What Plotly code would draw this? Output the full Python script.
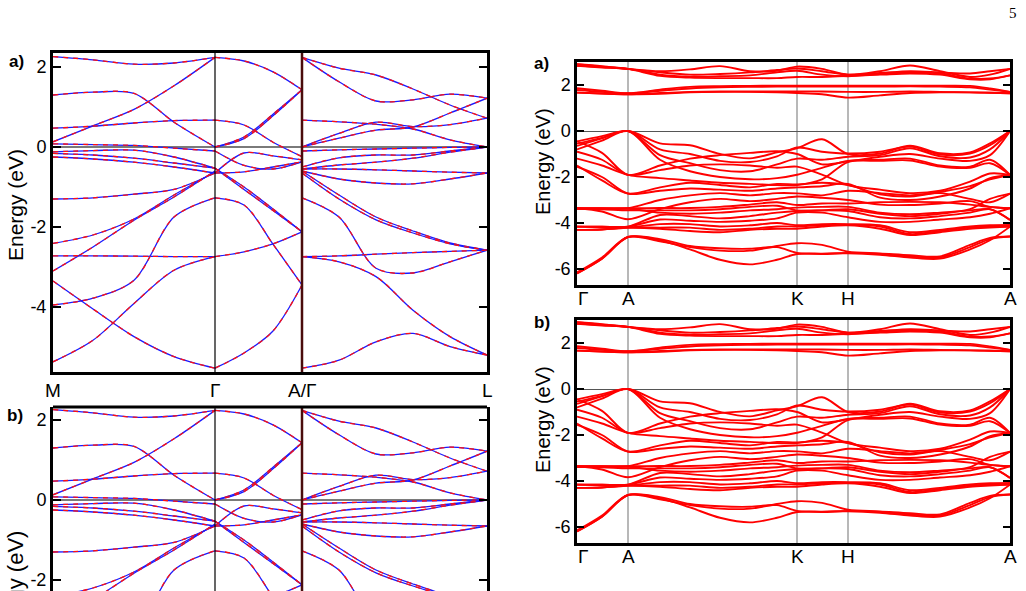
import plotly.graph_objects as go

# ---------------- Left panels (spin-resolved bands, M-Γ-A | Γ-L) ----------------
L_K_MG = [0, 40, 81, 121, 162]
L_K_GA = [162, 191, 220, 249]
L_K_GL = [249, 286, 323, 360, 397, 434]
L_TICKS = [0, 162, 249, 434]
L_TICK_LABELS = ["M", "Γ", "A/Γ", "L"]
L_YTICKS = [-4, -2, 0, 2]

L_BANDS_MG = [
    [2.26, 2.18, 2.07, 2.10, 2.24],
    [1.30, 1.37, 1.34, 0.62, 0.00],
    [0.13, 0.53, 0.94, 1.53, 2.24],
    [0.47, 0.52, 0.60, 0.66, 0.67],
    [0.08, 0.06, 0.04, -0.03, -0.10],
    [-0.12, -0.09, -0.08, -0.25, -0.53],
    [-0.16, -0.20, -0.28, -0.40, -0.53],
    [-0.25, -0.30, -0.38, -0.50, -0.65],
    [-1.30, -1.27, -1.18, -1.06, -0.65],
    [-2.41, -2.20, -1.80, -1.20, -0.62],
    [-3.10, -2.50, -1.83, -1.25, -0.60],
    [-2.72, -2.72, -2.73, -2.74, -2.74],
    [-3.35, -4.05, -4.74, -5.24, -5.53],
    [-3.95, -3.78, -3.33, -1.75, -1.27],
    [-5.37, -4.83, -3.91, -3.08, -2.74],
]
L_BANDS_GA = [
    [2.24, 2.15, 1.88, 1.43],
    [0.00, 0.25, 0.82, 1.43],
    [0.00, 0.21, 0.78, 1.43],
    [0.67, 0.55, 0.12, -0.24],
    [-0.10, -0.46, -0.55, -0.37],
    [-0.65, -0.15, -0.22, -0.32],
    [-0.65, -0.62, -0.50, -0.37],
    [-0.53, -1.06, -1.59, -2.12],
    [-0.53, -1.00, -1.55, -2.12],
    [-1.27, -1.45, -2.43, -3.45],
    [-2.74, -2.62, -2.42, -2.12],
    [-5.53, -5.15, -4.60, -3.45],
]
L_BANDS_GL = [
    [2.24, 1.97, 1.80, 1.45, 1.05, 0.72],
    [2.24, 1.63, 1.15, 1.18, 1.32, 1.22],
    [0.67, 0.63, 0.57, 0.45, 0.18, 0.00],
    [0.00, 0.34, 0.62, 0.51, 0.56, 0.72],
    [0.00, 0.22, 0.42, 0.50, 0.85, 1.22],
    [-0.10, -0.07, -0.05, -0.03, -0.01, 0.00],
    [-0.50, -0.27, -0.20, -0.20, -0.10, 0.00],
    [-0.55, -0.45, -0.38, -0.28, -0.13, 0.00],
    [-0.55, -0.55, -0.57, -0.60, -0.63, -0.65],
    [-0.60, -0.80, -0.90, -0.92, -0.80, -0.65],
    [-0.60, -1.20, -1.75, -2.10, -2.40, -2.58],
    [-0.65, -1.30, -1.82, -2.15, -2.42, -2.58],
    [-1.27, -1.75, -3.03, -3.15, -2.87, -2.58],
    [-2.74, -2.72, -2.68, -2.64, -2.61, -2.58],
    [-2.74, -2.87, -3.24, -4.08, -4.74, -5.20],
    [-5.53, -5.33, -4.87, -4.66, -4.99, -5.20],
]

# ---------------- Right panels (Γ-A-K-H-A) ----------------
R_K = [0, 25, 51, 83, 113, 143, 173, 200, 220, 245, 271, 303, 333, 363, 393, 413, 433]
R_TICKS = [0, 51, 220, 271, 433]
R_TICK_LABELS = ["Γ", "A", "K", "H", "A"]
R_YTICKS = [-6, -4, -2, 0, 2]

R_COND = [
    [2.90, 2.82, 2.70, 2.60, 2.68, 2.82, 2.60, 2.62, 2.80, 2.70, 2.45, 2.60, 2.85, 2.60, 2.35, 2.45, 2.70],
    [2.83, 2.78, 2.70, 2.55, 2.45, 2.48, 2.55, 2.65, 2.72, 2.60, 2.45, 2.52, 2.60, 2.55, 2.50, 2.60, 2.70],
    [2.83, 2.76, 2.70, 2.45, 2.36, 2.38, 2.42, 2.55, 2.62, 2.45, 2.38, 2.48, 2.55, 2.50, 2.28, 2.28, 2.42],
    [2.90, 2.80, 2.70, 2.40, 2.32, 2.30, 2.30, 2.30, 2.35, 2.35, 2.40, 2.45, 2.50, 2.45, 2.25, 2.25, 2.42],
    [1.86, 1.75, 1.64, 1.80, 1.92, 1.95, 1.96, 1.97, 1.97, 1.97, 1.97, 1.97, 1.97, 1.97, 1.96, 1.85, 1.70],
    [1.78, 1.70, 1.64, 1.75, 1.85, 1.90, 1.92, 1.93, 1.93, 1.93, 1.93, 1.93, 1.94, 1.93, 1.90, 1.80, 1.70],
    [1.67, 1.63, 1.60, 1.62, 1.68, 1.70, 1.70, 1.68, 1.65, 1.60, 1.45, 1.55, 1.65, 1.68, 1.68, 1.66, 1.64],
    [1.67, 1.63, 1.60, 1.65, 1.70, 1.72, 1.72, 1.72, 1.72, 1.72, 1.70, 1.70, 1.72, 1.70, 1.68, 1.66, 1.64],
]
R_VAL = [
    [-0.45, -0.22, 0.00, -0.54, -0.62, -1.00, -1.19, -0.93, -0.75, -0.36, -1.00, -0.98, -0.64, -0.97, -0.93, -0.54, 0.00],
    [-0.65, -0.32, 0.00, -0.80, -1.00, -1.30, -1.35, -1.10, -0.72, -0.90, -0.98, -0.90, -0.68, -1.02, -0.98, -0.62, 0.00],
    [-0.55, -0.30, 0.00, -1.05, -1.40, -1.70, -1.75, -1.45, -1.20, -1.25, -1.12, -1.05, -0.75, -1.10, -1.15, -0.80, 0.00],
    [-0.80, -0.42, 0.00, -1.25, -1.75, -2.00, -2.10, -2.05, -1.90, -1.60, -1.30, -1.25, -1.20, -1.50, -1.55, -1.25, -1.91],
    [-0.45, -0.95, -1.91, -1.50, -1.20, -1.05, -0.95, -0.88, -1.00, -1.45, -1.32, -1.12, -1.00, -1.20, -1.30, -1.05, 0.00],
    [-0.90, -1.25, -1.91, -1.70, -1.50, -1.45, -1.50, -1.60, -1.55, -1.90, -2.35, -2.55, -2.70, -2.60, -2.20, -1.85, -1.91],
    [-1.20, -1.50, -1.91, -2.05, -2.15, -2.25, -2.30, -2.35, -2.35, -2.10, -1.35, -1.30, -1.28, -1.55, -1.60, -1.40, -1.91],
    [-1.50, -2.15, -2.72, -2.45, -2.25, -2.35, -2.45, -2.30, -2.32, -2.25, -2.35, -2.75, -2.85, -2.65, -2.40, -2.10, -1.91],
    [-1.55, -2.00, -2.72, -2.60, -2.50, -2.55, -2.60, -2.50, -2.45, -2.40, -2.30, -2.90, -3.00, -2.85, -2.50, -2.05, -1.91],
    [-3.36, -3.36, -3.36, -3.00, -2.80, -2.70, -2.80, -2.70, -2.71, -2.80, -2.60, -2.70, -2.80, -2.70, -2.95, -3.10, -2.72],
    [-3.36, -3.50, -3.84, -3.40, -3.10, -2.95, -3.05, -2.95, -2.85, -2.90, -3.00, -3.20, -3.22, -3.15, -3.05, -3.30, -3.36],
    [-3.36, -3.36, -3.36, -3.35, -3.35, -3.30, -3.20, -3.10, -3.22, -3.15, -3.15, -3.10, -3.08, -3.10, -3.20, -3.30, -3.36],
    [-3.38, -3.40, -3.45, -3.45, -3.45, -3.40, -3.30, -3.25, -3.45, -3.45, -3.40, -3.60, -3.70, -3.60, -3.40, -2.95, -2.72],
    [-3.38, -3.38, -3.38, -3.55, -3.60, -3.55, -3.45, -3.40, -3.33, -3.30, -3.30, -3.55, -3.62, -3.55, -3.45, -3.40, -3.87],
    [-4.16, -4.16, -4.16, -3.65, -3.70, -3.80, -3.70, -3.55, -3.48, -3.45, -3.48, -3.75, -3.80, -3.70, -3.55, -3.40, -3.87],
    [-4.16, -4.16, -4.16, -3.85, -3.90, -3.95, -3.90, -3.80, -3.55, -3.55, -3.75, -3.95, -3.95, -3.85, -3.75, -3.60, -3.36],
    [-4.30, -4.28, -4.20, -4.05, -4.05, -4.15, -4.10, -4.00, -4.10, -4.05, -4.05, -4.10, -4.40, -4.30, -4.15, -4.10, -4.09],
    [-4.30, -4.28, -4.20, -4.20, -4.20, -4.30, -4.25, -4.15, -4.15, -4.10, -4.08, -4.15, -4.48, -4.35, -4.20, -4.15, -4.16],
    [-4.16, -4.20, -4.20, -4.25, -4.35, -4.40, -4.30, -4.25, -4.25, -4.15, -4.10, -4.25, -4.52, -4.40, -4.25, -4.20, -4.16],
    [-6.19, -5.55, -4.61, -4.75, -5.15, -5.60, -5.80, -5.60, -5.35, -5.33, -5.32, -5.38, -5.50, -5.55, -5.15, -4.75, -4.16],
    [-6.19, -5.55, -4.61, -4.70, -5.00, -5.10, -5.12, -5.05, -5.30, -5.35, -5.30, -5.35, -5.45, -5.50, -5.05, -4.70, -4.59],
    [-6.15, -5.50, -4.61, -4.80, -5.05, -5.20, -5.20, -5.00, -4.88, -4.95, -5.25, -5.32, -5.40, -5.45, -4.95, -4.65, -4.59],
]

W, H = 1026, 591
FONT = "Liberation Sans, Arial, Helvetica, sans-serif"


def dx(p0, p1):
    return [p0 / W, p1 / W]


def dy(top, bot):
    return [max(0.0, 1 - bot / H), 1 - top / H]


fig = go.Figure()


def add_spin_bands(xs, bands, xa, ya):
    for b in bands:
        fig.add_trace(go.Scatter(x=xs, y=b, mode="lines", xaxis=xa, yaxis=ya,
                                 line=dict(color="#1a1aff", width=1.3, shape="spline", smoothing=0.9),
                                 hoverinfo="skip", showlegend=False))
        fig.add_trace(go.Scatter(x=xs, y=b, mode="lines", xaxis=xa, yaxis=ya,
                                 line=dict(color="#ff1010", width=1.3, shape="spline", smoothing=0.9,
                                           dash="5px,5px"),
                                 hoverinfo="skip", showlegend=False))


def add_red_bands(xs, bands, xa, ya):
    for b in bands:
        fig.add_trace(go.Scatter(x=xs, y=b, mode="lines", xaxis=xa, yaxis=ya,
                                 line=dict(color="#ff0000", width=1.9, shape="spline", smoothing=0.9),
                                 hoverinfo="skip", showlegend=False))


for xa, ya in (("x", "y"), ("x2", "y2")):
    add_spin_bands(L_K_MG, L_BANDS_MG, xa, ya)
    add_spin_bands(L_K_GA, L_BANDS_GA, xa, ya)
    add_spin_bands(L_K_GL, L_BANDS_GL, xa, ya)

for xa, ya in (("x3", "y3"), ("x4", "y4")):
    add_red_bands(R_K, R_COND, xa, ya)
    add_red_bands(R_K, R_VAL, xa, ya)

xcommon = dict(showgrid=False, zeroline=False, showticklabels=False, ticks="", fixedrange=True)
ycommon = dict(showgrid=False, ticks="inside", tickcolor="black", tickwidth=2,
               tickfont=dict(family=FONT, size=18, color="black"), fixedrange=True,
               zeroline=True, linecolor="black")

fig.update_layout(
    width=W, height=H, autosize=False,
    margin=dict(l=0, r=0, t=0, b=0),
    paper_bgcolor="white", plot_bgcolor="white",
    xaxis=dict(domain=dx(53, 487), range=[0, 434], anchor="y", showline=True, mirror=True,
               linecolor="black", linewidth=3, **xcommon),
    yaxis=dict(domain=dy(53, 372), range=[-5.625, 2.35], anchor="x",
               tickvals=L_YTICKS, ticktext=[str(v) for v in L_YTICKS], ticklen=8,
               showline=True, mirror="ticks", linewidth=3,
               zerolinecolor="#7a7a7a", zerolinewidth=1.8, **ycommon),
    xaxis2=dict(domain=dx(53, 487), range=[0, 434], anchor="y2", showline=False, **xcommon),
    yaxis2=dict(domain=dy(407, 591), range=[-2.275, 2.325], anchor="x2",
                tickvals=L_YTICKS, ticktext=[str(v) for v in L_YTICKS], ticklen=8,
                showline=True, mirror="ticks", linewidth=3,
                zerolinecolor="#7a7a7a", zerolinewidth=1.8, **ycommon),
    xaxis3=dict(domain=dx(577, 1010), range=[0, 433], anchor="y3", showline=True, mirror=True,
                linecolor="black", linewidth=2.5, **xcommon),
    yaxis3=dict(domain=dy(62, 285), range=[-6.696, 3.0], anchor="x3",
                tickvals=R_YTICKS, ticktext=[str(v) for v in R_YTICKS], ticklen=7,
                showline=True, mirror="ticks", linewidth=2.5,
                zerolinecolor="#555555", zerolinewidth=1.2, **ycommon),
    xaxis4=dict(domain=dx(577, 1010), range=[0, 433], anchor="y4", showline=True, mirror=True,
                linecolor="black", linewidth=2.5, **xcommon),
    yaxis4=dict(domain=dy(320, 543), range=[-6.696, 3.0], anchor="x4",
                tickvals=R_YTICKS, ticktext=[str(v) for v in R_YTICKS], ticklen=7,
                showline=True, mirror="ticks", linewidth=2.5,
                zerolinecolor="#555555", zerolinewidth=1.2, **ycommon),
)

shapes = []
# left panels: Γ line and A/Γ divider
for xr, yr in (("x", "y domain"), ("x2", "y2 domain")):
    shapes.append(dict(type="line", xref=xr, yref=yr, x0=L_TICKS[1], x1=L_TICKS[1], y0=0, y1=1,
                       line=dict(color="black", width=1.2), layer="above"))
    shapes.append(dict(type="line", xref=xr, yref=yr, x0=L_TICKS[2], x1=L_TICKS[2], y0=0, y1=1,
                       line=dict(color="#4a0c0c", width=2.5), layer="above"))
# top border of the cut-off lower-left panel
shapes.append(dict(type="line", xref="paper", yref="paper", x0=53 / W, x1=487 / W,
                   y0=1 - 407 / H, y1=1 - 407 / H, line=dict(color="black", width=3)))
# right panels: high-symmetry verticals
for xr, yr in (("x3", "y3 domain"), ("x4", "y4 domain")):
    for kx in R_TICKS[1:4]:
        shapes.append(dict(type="line", xref=xr, yref=yr, x0=kx, x1=kx, y0=0, y1=1,
                           line=dict(color="#a0a0a0", width=1.5), layer="below"))
fig.update_layout(shapes=shapes)

ann = []
# left-panel x labels
for kx, lab in zip(L_TICKS, L_TICK_LABELS):
    ann.append(dict(x=kx, xref="x", y=1 - 390 / H, yref="paper", text=lab, showarrow=False,
                    xanchor="center", yanchor="middle", font=dict(family=FONT, size=19, color="black")))
# right-panel x labels
for yl in (298, 556):
    for i, (kx, lab) in enumerate(zip(R_TICKS, R_TICK_LABELS)):
        ann.append(dict(x=kx, xref="x3", y=1 - yl / H, yref="paper", text=lab, showarrow=False,
                        xanchor="left" if i == 0 else "center", yanchor="middle",
                        xshift=-1 if i == 0 else 0,
                        font=dict(family=FONT, size=19, color="black")))
# y-axis titles
for xp, yp, fs in ((15, 205, 21), (15, 590, 22), (543, 162, 20), (543, 420, 20)):
    ann.append(dict(x=xp / W, xref="paper", y=1 - yp / H, yref="paper", text="Energy (eV)",
                    textangle=-90, showarrow=False, xanchor="center", yanchor="middle",
                    font=dict(family=FONT, size=fs, color="black")))
# panel labels
for xp, yp, lab in ((16, 61, "a)"), (15, 415, "b)"), (541, 64, "a)"), (542, 322, "b)")):
    ann.append(dict(x=xp / W, xref="paper", y=1 - yp / H, yref="paper", text="<b>" + lab + "</b>",
                    showarrow=False, xanchor="center", yanchor="middle",
                    font=dict(family=FONT, size=17, color="black")))
# page number
ann.append(dict(x=1013 / W, xref="paper", y=1 - 13 / H, yref="paper", text="5", showarrow=False,
                xanchor="center", yanchor="middle",
                font=dict(family="Liberation Serif, DejaVu Serif, serif", size=15, color="black")))
fig.update_layout(annotations=ann)

fig.write_html("out.html")
